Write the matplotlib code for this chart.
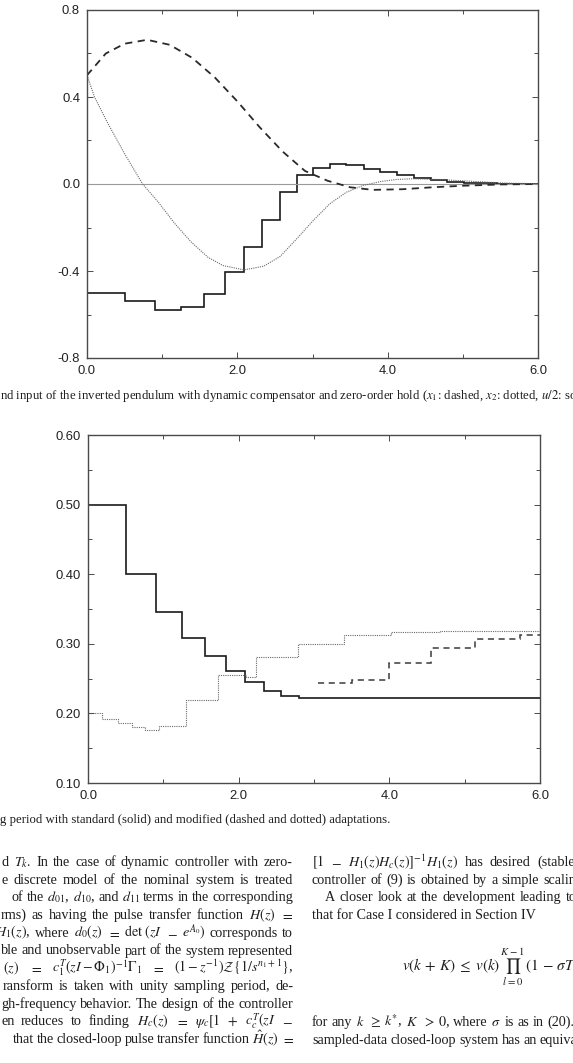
import matplotlib
matplotlib.use("Agg")
import matplotlib.pyplot as plt
from matplotlib.ticker import MultipleLocator, FormatStrFormatter

plt.rcParams['axes.unicode_minus'] = False
plt.rcParams['mathtext.fontset'] = 'stix'

# ---- upper chart: states and input (u/2 held by zero-order hold) ----
t_u = [0, 0.5, 0.9, 1.245, 1.55, 1.83, 2.087, 2.334, 2.567, 2.80, 3.01, 3.23,
       3.45, 3.68, 3.90, 4.12, 4.35, 4.57, 4.79, 5.01, 5.23, 5.46, 5.68, 5.90, 6.0]
u_half = [-0.50, -0.54, -0.58, -0.567, -0.506, -0.405, -0.288, -0.166, -0.038,
          0.041, 0.075, 0.090, 0.086, 0.070, 0.055, 0.040, 0.026, 0.018, 0.011,
          0.006, 0.003, 0.001, 0.0, 0.0]

t_x1 = [0, 0.25, 0.5, 0.8, 1.1, 1.4, 1.7, 2.0, 2.3, 2.6, 2.9, 3.2, 3.5, 3.8,
        4.2, 4.6, 5.0, 5.5, 6.0]
x1 = [0.5, 0.60, 0.645, 0.663, 0.64, 0.58, 0.49, 0.38, 0.26, 0.15, 0.06, 0.015,
      -0.015, -0.027, -0.024, -0.015, -0.008, -0.002, 0.0]

t_x2 = [0, 0.1, 0.28, 0.5, 0.74, 0.95, 1.17, 1.39, 1.61, 1.81, 2.09, 2.35, 2.57,
        2.79, 3.01, 3.23, 3.45, 3.67, 3.9, 4.12, 4.34, 4.65, 5.09, 5.5, 6.0]
x2 = [0.5, 0.40, 0.277, 0.139, 0.0, -0.084, -0.183, -0.268, -0.337, -0.375,
      -0.395, -0.378, -0.333, -0.252, -0.168, -0.091, -0.038, -0.007, 0.011,
      0.021, 0.024, 0.021, 0.013, 0.005, 0.001]

# ---- lower chart: sampling period ----
t_std = [0, 0.5, 0.9, 1.245, 1.55, 1.83, 2.087, 2.334, 2.567, 2.80, 3.01, 6.0]
T_std = [0.50, 0.40, 0.345, 0.309, 0.282, 0.261, 0.245, 0.2316, 0.2255, 0.2226, 0.222]

t_dot = [0, 0.19, 0.40, 0.58, 0.76, 0.94, 1.30, 1.73, 2.095, 2.23, 2.79, 3.40,
         4.02, 4.67, 6.0]
T_dot = [0.200, 0.1924, 0.1862, 0.1805, 0.1766, 0.1823, 0.2187, 0.2552, 0.2528,
         0.281, 0.300, 0.312, 0.3165, 0.319]

t_dash = [3.05, 3.50, 3.99, 4.55, 5.14, 5.74, 6.0]
T_dash = [0.243, 0.248, 0.273, 0.2935, 0.3065, 0.312]

W, H = 573, 1063
fig = plt.figure(figsize=(W / 100, H / 100), dpi=100)
renderer = fig.canvas.get_renderer()


def box(l, t, r, b):
    return [l / W, 1 - b / H, (r - l) / W, (b - t) / H]


def style_axes(ax):
    for s in ax.spines.values():
        s.set_color('#4a4a4a')
        s.set_linewidth(1.0)
    ax.tick_params(which='both', direction='in', top=True, right=True,
                   colors='#4a4a4a', labelcolor='#222222', labelsize=9.4,
                   width=0.7)
    ax.tick_params(which='major', length=4, pad=5)
    ax.tick_params(which='minor', length=3)
    for lab in ax.get_xticklabels() + ax.get_yticklabels():
        lab.set_family('Liberation Sans')


# upper chart
ax1 = fig.add_axes(box(87, 10, 538, 358))
ax1.axhline(0, color='#9a9a9a', lw=0.8)
ax1.plot(t_x1, x1, color='#2a2a2a', lw=1.3, ls=(0, (4, 3)))
ax1.plot(t_x2, x2, color='#6a6a6a', lw=0.8, ls=(0, (1, 1)))
ax1.stairs(u_half, t_u, baseline=None, color='#1a1a1a', lw=1.2)
ax1.set_xlim(0, 6)
ax1.set_ylim(-0.8, 0.8)
ax1.xaxis.set_major_locator(MultipleLocator(2))
ax1.xaxis.set_minor_locator(MultipleLocator(1))
ax1.yaxis.set_major_locator(MultipleLocator(0.4))
ax1.yaxis.set_minor_locator(MultipleLocator(0.2))
ax1.xaxis.set_major_formatter(FormatStrFormatter('%.1f'))
ax1.yaxis.set_major_formatter(FormatStrFormatter('%.1f'))
style_axes(ax1)

# lower chart
ax2 = fig.add_axes(box(88, 435, 540, 783))
ax2.stairs(T_std, t_std, baseline=None, color='#1a1a1a', lw=1.2)
ax2.stairs(T_dot, t_dot, baseline=None, color='#6a6a6a', lw=0.8, ls=(0, (1, 1)))
ax2.stairs(T_dash, t_dash, baseline=None, color='#3a3a3a', lw=1.1, ls=(0, (4, 3)))
ax2.set_xlim(0, 6)
ax2.set_ylim(0.10, 0.60)
ax2.xaxis.set_major_locator(MultipleLocator(2))
ax2.xaxis.set_minor_locator(MultipleLocator(1))
ax2.yaxis.set_major_locator(MultipleLocator(0.1))
ax2.yaxis.set_minor_locator(MultipleLocator(0.05))
ax2.xaxis.set_major_formatter(FormatStrFormatter('%.1f'))
ax2.yaxis.set_major_formatter(FormatStrFormatter('%.2f'))
style_axes(ax2)

serif = 'Liberation Serif'
ink = '#1e1e1e'
BODY = 10.2


def put(x, y, s, size=BODY, ha='left'):
    return fig.text(x / W, 1 - y / H, s, ha=ha, va='baseline', fontsize=size,
                    family=serif, color=ink)


def justify(line, y, x0, x1, last_left=False):
    # spread the words so the line runs from x0 to x1 (x1 = right end,
    # or the start of the last word when last_left is set)
    words = [put(0, y, w) for w in line.split(' ')]
    widths = [w.get_window_extent(renderer).width for w in words]
    used = sum(widths[:-1]) if last_left else sum(widths)
    gap = (x1 - x0 - used) / max(len(words) - 1, 1)
    gap = max(gap, 2.5)
    x = x0
    for w, wd in zip(words, widths):
        w.set_x(x / W)
        x += wd + gap


# captions (cropped page)
put(0, 399, r'nd input of the inverted pendulum with dynamic compensator and '
            r'zero-order hold ($x_1$: dashed, $x_2$: dotted, $u/2$: solid).', size=9.2)
put(0, 823, 'g period with standard (solid) and modified (dashed and dotted) '
            'adaptations.', size=9.2)

# left column (justified, cut at the left page edge)
left_lines = [
    (2, r'd $T_k$. In the case of dynamic controller with zero-'),
    (2, 'e discrete model of the nominal system is treated'),
    (12, r'of the $d_{01}$, $d_{10}$, and $d_{11}$ terms in the corresponding'),
    (1, r'rms) as having the pulse transfer function $H(z)$ $=$'),
    (-5, r'$H_1(z)$, where $d_0(z)$ $=$ $\det\,(zI$ $-$ $e^{A_0})$ corresponds to'),
    (1, 'ble and unobservable part of the system represented'),
    (3, r'$(z)$ $=$ $c_1^T(zI-\Phi_1)^{-1}\Gamma_1$ $=$ $(1-z^{-1})\mathcal{Z}\{1/s^{n_1+1}\}$,'),
    (3, 'ransform is taken with unity sampling period, de-'),
    (1, 'gh-frequency behavior. The design of the controller'),
    (1, r'en reduces to finding $H_c(z)$ $=$ $\psi_c[1$ $+$ $c_c^T(zI$ $-$'),
    (13, r'that the closed-loop pulse transfer function $\hat{H}(z)$ $=$'),
]
for i, (x0, s) in enumerate(left_lines):
    justify(s, 866 + i * 17.7, x0, 293)

# right column (justified, cut at the right page edge)
justify(r'$[1$ $-$ $H_1(z)H_c(z)]^{-1}H_1(z)$ has desired (stable)', 866, 312, 537,
        last_left=True)
justify('controller of (9) is obtained by a simple scaling', 883.7, 312, 543,
        last_left=True)
justify('A closer look at the development leading to', 901.4, 325, 566,
        last_left=True)
put(312, 919.1, 'that for Case I considered in Section IV')
put(402, 971, r'$v(k\,+\,K)\;\leq\;v(k)\,\prod_{l=0}^{K-1}\,(1\,-\,\sigma T$', size=11.0)
justify(r'for any $k$ $\geq$ $k^{*}$, $K$ $>$ $0$, where $\sigma$ is as in (20).',
        1026, 312, 547, last_left=True)
justify('sampled-data closed-loop system has an equiva', 1043.7, 312, 540,
        last_left=True)

fig.savefig('out.png', dpi=100)
